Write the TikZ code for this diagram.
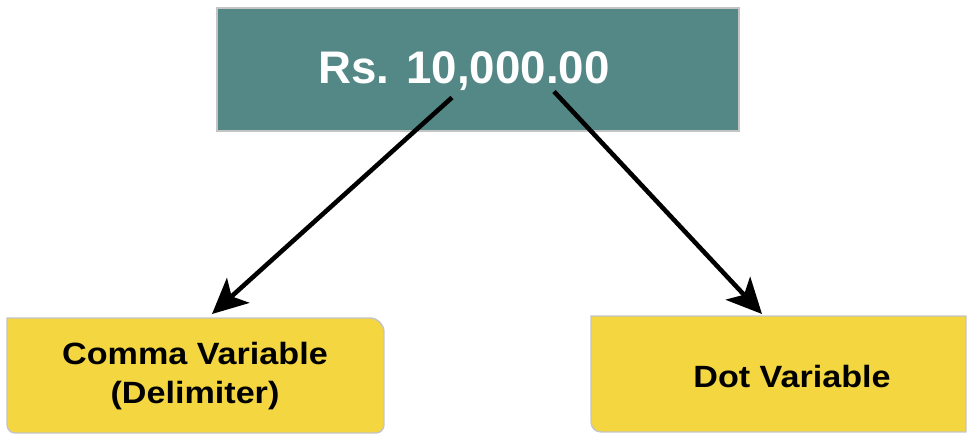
\documentclass[tikz,border=0pt]{standalone}
\usepackage{fontspec}
\setmainfont{Liberation Sans}
\newfontfamily\varfont[FakeStretch=1.11]{Liberation Sans}
\usetikzlibrary{arrows.meta, calc, backgrounds}
\definecolor{amTeal}{HTML}{548886}
\definecolor{amYellow}{HTML}{F3D640}
\definecolor{amEdge}{HTML}{C4C4C4}
\tikzset{
  amountbox/.style={
    draw=amEdge, line width=0.8pt, fill=amTeal,
    minimum width=10.44cm, minimum height=2.46cm, inner sep=0pt
  },
  amounttext/.style={font=\fontsize{26}{30}\selectfont\bfseries,
    text=white, inner sep=0pt, anchor=base},
  varframe/.style={inner sep=0pt, outer sep=0pt},
  varshape/.style={draw=amEdge, line width=0.8pt, fill=amYellow},
  vartext/.style={font=\varfont\fontsize{17.5}{22}\selectfont\bfseries,
    text=black, inner sep=0pt, align=center},
  link/.style={-{Stealth[length=20pt, width=19pt, inset=5pt]},
    line width=2.6pt, draw=black},
}

\begin{document}
\begin{tikzpicture}[x=0.02cm, y=0.02cm]
  \useasboundingbox (0,0) rectangle (968,434);

  % amount on top
  \node[amountbox] (amount) at (478,364.5) {};
  \node[amounttext] (amountText) at (464,351) {Rs. 10,000.00};

  % the two separators below
  \node[varframe, minimum width=7.54cm, minimum height=2.3cm] (comma) at (195.5,58.5) {};
  \node[varframe, minimum width=7.5cm, minimum height=2.32cm] (dot) at (778.5,60) {};

  \begin{scope}[on background layer]
    \draw[varshape] (comma.north west) -- ($(comma.north east)+(-14,0)$)
      arc[start angle=90, end angle=0, radius=14]
      -- ($(comma.south east)+(0,8)$) arc[start angle=0, end angle=-90, radius=8]
      -- ($(comma.south west)+(8,0)$) arc[start angle=270, end angle=180, radius=8]
      -- cycle;
    \draw[varshape] (dot.north west) -- (dot.north east) -- (dot.south east)
      -- ($(dot.south west)+(10,0)$) arc[start angle=270, end angle=180, radius=10]
      -- cycle;
  \end{scope}

  \node[vartext] (commaText) at (195,58) {Comma Variable\\(Delimiter)};
  \node[vartext, anchor=base] (dotText) at (792,47) {Dot Variable};

  % arrows leave from the comma and the decimal point
  \coordinate (commaTail) at ($(amount.center)+(-26,-28)$);
  \coordinate (dotTail) at ($(amount.center)+(76,-22)$);
  \draw[link] (commaTail) -- ($(comma.north)+(16.5,4)$);
  \draw[link] (dotTail) -- ($(dot.north)+(-16.5,2)$);
\end{tikzpicture}
\end{document}
